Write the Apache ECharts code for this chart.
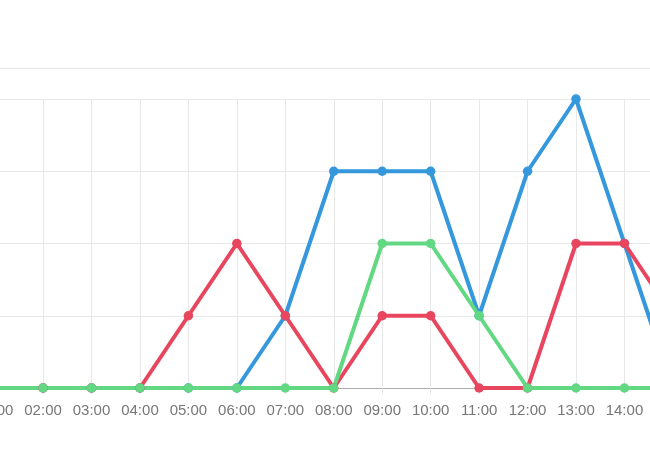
<!DOCTYPE html>
<html>
<head>
<meta charset="utf-8">
<script src="https://cdn.jsdelivr.net/npm/echarts@6/dist/echarts.min.js"></script>
<style>
html,body{margin:0;padding:0;background:#fff;overflow:hidden;width:650px;height:450px;}
#wrap{position:relative;width:650px;height:450px;overflow:hidden;}
#chart{position:absolute;left:-60px;top:0;width:800px;height:450px;}
</style>
</head>
<body>
<div id="wrap"><div id="chart"></div></div>
<script>
var hours = ['01:00','02:00','03:00','04:00','05:00','06:00','07:00','08:00','09:00','10:00','11:00','12:00','13:00','14:00','15:00'];
var blueValues  = [0,0,0,0,0,0,1,3,3,3,1,3,4,2,0];
var redValues   = [0,0,0,0,1,2,1,0,1,1,0,0,2,2,1];
var greenValues = [0,0,0,0,0,0,0,0,2,2,1,0,0,0,0];

var chart = echarts.init(document.getElementById('chart'));
function mk(name, data, color) {
  return {
    name: name, type: 'line', data: data,
    symbol: 'circle', symbolSize: 9.5,
    lineStyle: { width: 4, color: color },
    itemStyle: { color: color },
    clip: false
  };
}
chart.setOption({
  animation: false,
  grid: { left: 54.6, right: 67.1, top: 99, bottom: 62, containLabel: false },
  graphic: [{
    type: 'line', shape: { x1: 0, y1: 68.5, x2: 800, y2: 68.5 },
    style: { stroke: '#e6e6e6', lineWidth: 1 }
  }],
  xAxis: {
    type: 'category', data: hours, boundaryGap: false,
    axisLine: { lineStyle: { color: '#aaaaaa' } },
    axisTick: { show: true, length: 6, interval: 0, lineStyle: { color: '#e3e3e3' } },
    axisLabel: { interval: 0, color: '#777777', fontSize: 15, margin: 15, fontFamily: 'Liberation Sans, Arial, sans-serif' },
    splitLine: { show: true, interval: 0, lineStyle: { color: '#e8e8e8' } }
  },
  yAxis: {
    type: 'value', min: 0, max: 4, interval: 1,
    axisLine: { show: false }, axisTick: { show: false }, axisLabel: { show: false },
    splitLine: { lineStyle: { color: '#e8e8e8' } }
  },
  series: [
    mk('blue', blueValues, '#3598dc'),
    mk('red', redValues, '#e8455e'),
    mk('green', greenValues, '#63d882')
  ]
});
</script>
</body>
</html>
